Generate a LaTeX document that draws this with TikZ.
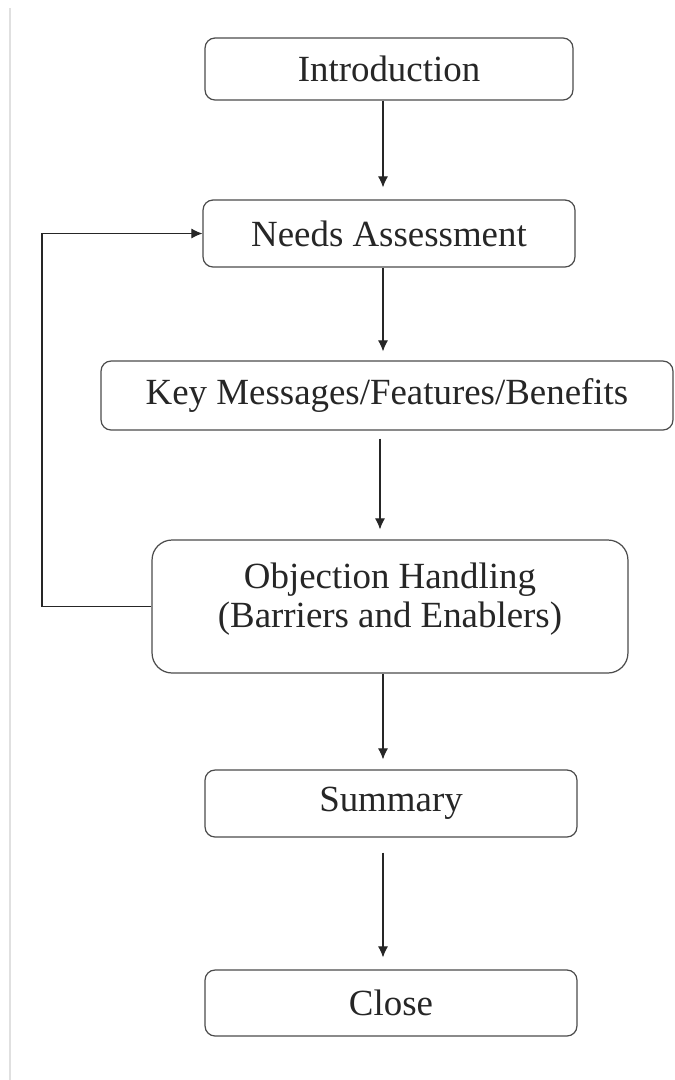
\documentclass[tikz,border=0pt]{standalone}
\usepackage{fontspec}
\setmainfont{Liberation Serif}
\usetikzlibrary{arrows.meta}
\begin{document}
\begin{tikzpicture}[x=0.02cm, y=-0.02cm,
        every node/.style={font=\fontsize{21}{22}\selectfont, text=black!85},
        stage/.style={draw=black!70, line width=0.7pt, rounded corners=0.2cm, minimum height=1.3cm, inner sep=0pt},
        arr/.style={draw=black!85, line width=0.6pt, -{Latex[length=0.22cm, width=0.2cm]}}]
            \useasboundingbox (0,0) rectangle (675,1080);
            \draw[black!12, line width=1pt] (10,8) -- (10,1080);
            \node[stage, minimum width=7.36cm, minimum height=1.24cm] (intro) at (389,69) {Introduction};
            \node[stage, minimum width=7.44cm, minimum height=1.34cm] (needs) at (389,233.5) {Needs Assessment};
            \node[stage, minimum width=11.44cm, minimum height=1.38cm] (keymsg) at (387,395.5) {Key Messages/Features/Benefits};
            \node[stage, minimum width=9.52cm, minimum height=2.66cm, rounded corners=0.4cm] (objection) at (390,606.5) {};
            \node[align=center] (objtext) at (390,599) {Objection Handling\\(Barriers and Enablers)};
            \node[stage, minimum width=7.44cm, minimum height=1.34cm] (summary) at (391,803.5) {Summary};
            \node[stage, minimum width=7.44cm, minimum height=1.32cm] (close) at (391,1003) {Close};
            \coordinate (ax) at (383,0);
            \coordinate (bx) at (380,0);
            \coordinate (loop) at (42,400);
            \draw[arr, shorten >=0.24cm] (intro.south -| ax) -- (needs.north -| ax);
            \draw[arr, shorten >=0.18cm] (needs.south -| ax) -- (keymsg.north -| ax);
            \draw[arr, shorten <=0.16cm, shorten >=0.2cm] (keymsg.south -| bx) -- (objection.north -| bx);
            \draw[arr, shorten >=0.2cm] (objection.south -| ax) -- (summary.north -| ax);
            \draw[arr, shorten <=0.3cm, shorten >=0.24cm] (summary.south -| ax) -- (close.north -| ax);
            \draw[arr] (objection.west) -| (loop) |- (needs.west);
        \end{tikzpicture}
\end{document}
